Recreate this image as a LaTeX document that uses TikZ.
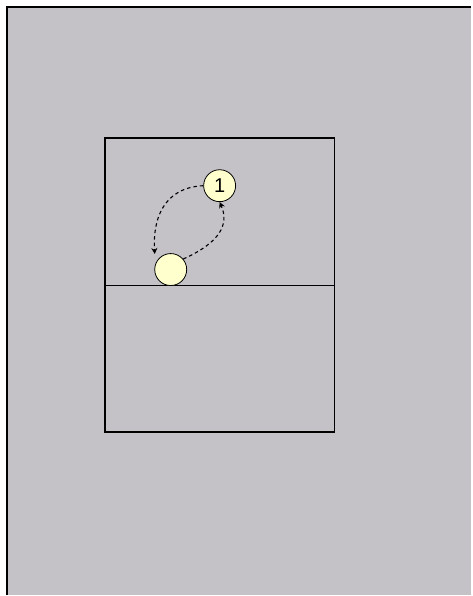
\documentclass[tikz,border=0pt]{standalone}
\usepackage{fontspec}
\setsansfont{Liberation Sans}
\usepackage{xcolor}
\usetikzlibrary{arrows.meta}
\definecolor{floorgray}{HTML}{C4C2C6}
\definecolor{chalk}{HTML}{FFFFCE}
\tikzset{player/.style={circle,draw=black,line width=0.8pt,fill=chalk,minimum size=32pt,inner sep=0pt,font=\sffamily\fontsize{20}{20}\selectfont},
  runline/.style={line width=1.1pt,dash pattern=on 3.5pt off 3pt,-{Stealth[length=6pt,width=6pt]}},
  courtline/.style={line width=1.6pt}}

\begin{document}
\begin{tikzpicture}[x=1pt,y=-1pt]
\fill[white] (0,0) rectangle (472,596); \fill[floorgray] (6,6) rectangle (472,596);
\draw[line width=2pt] (7,596)--(7,7)--(472,7);
\draw[courtline] (105,138) rectangle (335,433); \draw[courtline] (105,286)--(335,286);
\node[player] (p1) at (220,186) {1};
\node[player] (ball) at (171,270) {};
\draw[runline,shorten >=10pt] (p1.west) .. controls (162,188) and (153,222) .. (ball.160);
\draw[runline] (ball.40) .. controls (220,243) and (230,225) .. (p1.south);
\end{tikzpicture}
\end{document}
